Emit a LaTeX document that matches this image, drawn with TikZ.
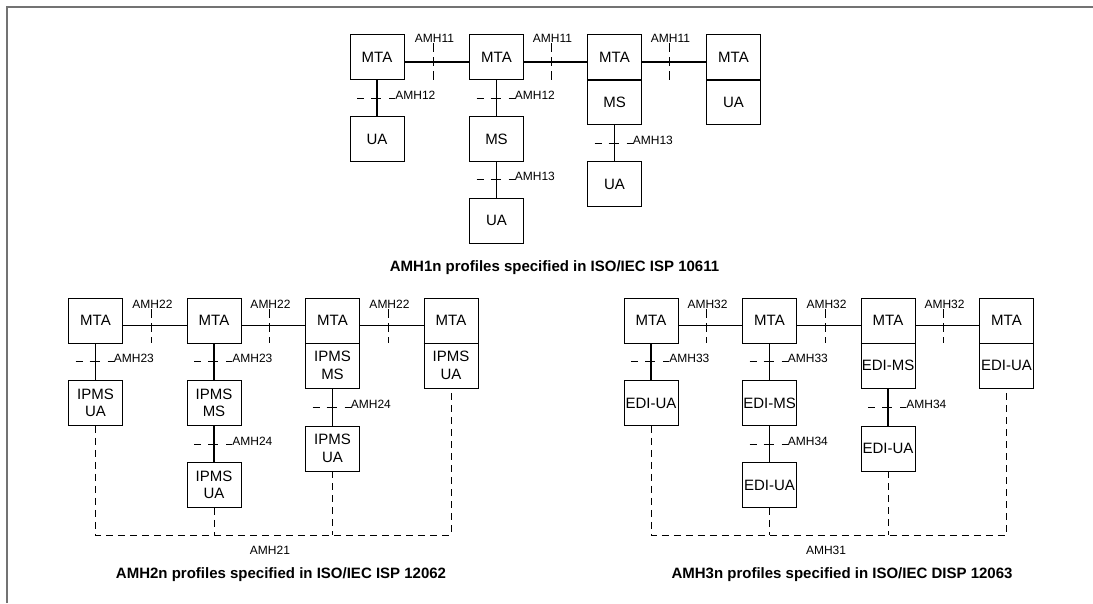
\documentclass[tikz,border=0pt]{standalone}
\usepackage{fontspec}
\setmainfont{Liberation Sans}
\tikzset{
  box/.style={draw, line width=0.9pt, minimum width=54pt, minimum height=45pt, inner sep=0pt, align=center, font=\fontsize{15}{17.5}\selectfont},
  conn/.style={line width=1.4pt},
  dcross/.style={line width=0.8pt, dash pattern=on 7pt off 7pt on 10pt off 8pt on 6pt off 100pt},
  tickmark/.style={line width=0.8pt, dash pattern=on 9pt off 5pt},
  dlink/.style={line width=0.8pt, dash pattern=on 7pt off 5pt},
  lab/.style={font=\fontsize{12}{14}\selectfont, inner sep=0pt},
  captxt/.style={font=\bfseries\fontsize{15}{18}\selectfont, inner sep=0pt}
}
% crossing dashed mark on a vertical connector: upper node, lower node, coordinate name, label
\newcommand\mhcross[4]{%
  \draw[conn] (#1.south) -- (#2.north) coordinate[pos=0.5] (#3);
  \draw[dcross] ([xshift=-20pt]#3) -- ([xshift=18pt]#3) node[lab, anchor=base west, yshift=-1.2pt] {#4};
}
% link between two MTAs with a dashed tick: left node, right node, tick x, tick top y, tick bottom y, label, name
\newcommand\mhlink[7]{%
  \draw[conn] ([yshift=-5pt]#1.east) -- ([yshift=-5pt]#2.west);
  \coordinate (#7a) at (#3,#4);
  \coordinate (#7b) at (#3,#5);
  \draw[tickmark] (#7a) -- (#7b);
  \node[lab] (#7l) at ([xshift=1.5pt,yshift=4.5pt]#7a) {#6};
}
\begin{document}
\begin{tikzpicture}[x=1pt,y=-1pt]
\path[use as bounding box] (0,0) rectangle (1093,603);
\draw[black!55, line width=2pt] (6.5,603) -- (6.5,6.5) -- (1093,6.5);

% ---------- top section ----------
\node[box] (t1m) at (377,57) {MTA};
\node[box] (t1u) at (377,139) {UA};
\node[box] (t2m) at (496.5,57) {MTA};
\node[box] (t2s) at (496.5,139) {MS};
\node[box] (t2u) at (496.5,220.5) {UA};
\node[box] (t3m) at (614.5,57) {MTA};
\node[box] (t3s) at (614.5,102) {MS};
\node[box] (t3u) at (614.5,184) {UA};
\node[box] (t4m) at (733.5,57) {MTA};
\node[box] (t4u) at (733.5,102) {UA};
\draw[conn] (t3m.south west) -- (t3m.south east);
\draw[conn] (t4m.south west) -- (t4m.south east);
\mhlink{t1m}{t2m}{433}{43}{80}{AMH11}{tk1}
\mhlink{t2m}{t3m}{551}{43}{80}{AMH11}{tk2}
\mhlink{t3m}{t4m}{669}{43}{80}{AMH11}{tk3}
\mhcross{t1m}{t1u}{tc1}{AMH12}
\mhcross{t2m}{t2s}{tc2}{AMH12}
\mhcross{t2s}{t2u}{tc3}{AMH13}
\mhcross{t3s}{t3u}{tc4}{AMH13}
\node[captxt] (cap1) at (554.5,268) {AMH1n profiles specified in ISO/IEC ISP 10611};

% ---------- lower left section ----------
\node[box] (a1m) at (95.5,320.5) {MTA};
\node[box] (a1u) at (95.5,403) {IPMS\\UA};
\node[box] (a2m) at (214,320.5) {MTA};
\node[box] (a2s) at (214,403) {IPMS\\MS};
\node[box] (a2u) at (214,485) {IPMS\\UA};
\node[box] (a3m) at (332.5,320.5) {MTA};
\node[box] (a3s) at (332.5,365.5) {IPMS\\MS};
\node[box] (a3u) at (332.5,448.5) {IPMS\\UA};
\node[box] (a4m) at (451,320.5) {MTA};
\node[box] (a4u) at (451,365.5) {IPMS\\UA};
\draw[conn] (a3m.south west) -- (a3m.south east);
\draw[conn] (a4m.south west) -- (a4m.south east);
\mhlink{a1m}{a2m}{151}{309}{343}{AMH22}{ak1}
\mhlink{a2m}{a3m}{269}{309}{343}{AMH22}{ak2}
\mhlink{a3m}{a4m}{388}{309}{343}{AMH22}{ak3}
\mhcross{a1m}{a1u}{ac1}{AMH23}
\mhcross{a2m}{a2s}{ac2}{AMH23}
\mhcross{a2s}{a2u}{ac3}{AMH24}
\mhcross{a3s}{a3u}{ac4}{AMH24}
\coordinate (abl) at (0,535);
\draw[dlink] (a1u.south) -- (a1u.south |- abl) -- (a4u.south |- abl) -- (a4u.south);
\draw[dlink] (a2u.south) -- (a2u.south |- abl);
\draw[dlink] (a3u.south) -- (a3u.south |- abl);
\node[lab] (al21) at (270,550) {AMH21};
\node[captxt] (cap2) at (281,575) {AMH2n profiles specified in ISO/IEC ISP 12062};

% ---------- lower right section ----------
\node[box] (b1m) at (651,320.5) {MTA};
\node[box] (b1u) at (651,403) {EDI-UA};
\node[box] (b2m) at (769.5,320.5) {MTA};
\node[box] (b2s) at (769.5,403) {EDI-MS};
\node[box] (b2u) at (769.5,485) {EDI-UA};
\node[box] (b3m) at (888,320.5) {MTA};
\node[box] (b3s) at (888,365.5) {EDI-MS};
\node[box] (b3u) at (888,448.5) {EDI-UA};
\node[box] (b4m) at (1006.5,320.5) {MTA};
\node[box] (b4u) at (1006.5,365.5) {EDI-UA};
\draw[conn] (b3m.south west) -- (b3m.south east);
\draw[conn] (b4m.south west) -- (b4m.south east);
\mhlink{b1m}{b2m}{706}{309}{343}{AMH32}{bk1}
\mhlink{b2m}{b3m}{825}{309}{343}{AMH32}{bk2}
\mhlink{b3m}{b4m}{943}{309}{343}{AMH32}{bk3}
\mhcross{b1m}{b1u}{bc1}{AMH33}
\mhcross{b2m}{b2s}{bc2}{AMH33}
\mhcross{b2s}{b2u}{bc3}{AMH34}
\mhcross{b3s}{b3u}{bc4}{AMH34}
\coordinate (bbl) at (0,535);
\draw[dlink] (b1u.south) -- (b1u.south |- bbl) -- (b4u.south |- bbl) -- (b4u.south);
\draw[dlink] (b2u.south) -- (b2u.south |- bbl);
\draw[dlink] (b3u.south) -- (b3u.south |- bbl);
\node[lab] (bl31) at (826,550) {AMH31};
\node[captxt] (cap3) at (842,575) {AMH3n profiles specified in ISO/IEC DISP 12063};
\end{tikzpicture}
\end{document}
